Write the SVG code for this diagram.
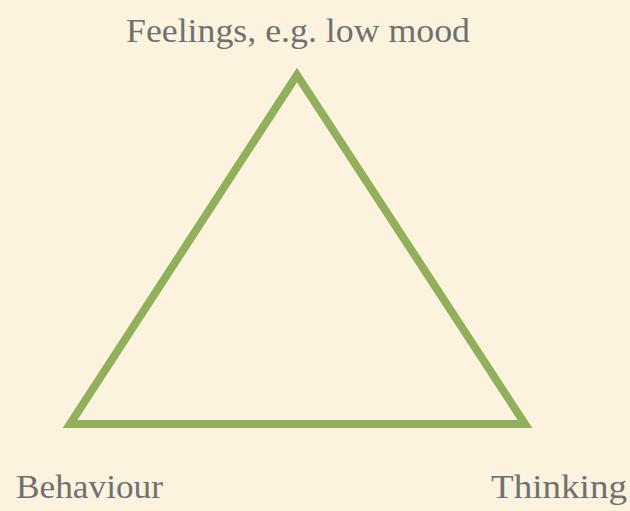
<svg xmlns="http://www.w3.org/2000/svg" width="630" height="511" viewBox="0 0 630 511">
<style>
text{font-family:'Liberation Serif','Times New Roman',Times,serif;font-size:33px;fill:#707070}
</style>
<rect width="630" height="511" fill="#FCF3DF"/>
<g id="connectors">
<polygon points="297,75 70,424 525,424" fill="none" stroke="#92B05B" stroke-width="8" stroke-linejoin="miter"/>
</g>
<g id="node-feelings"><text x="126" y="42" textLength="344" lengthAdjust="spacingAndGlyphs">Feelings, e.g. low mood</text></g>
<g id="node-behaviour"><text x="16" y="498" textLength="147" lengthAdjust="spacingAndGlyphs">Behaviour</text></g>
<g id="node-thinking"><text x="491" y="498" textLength="136" lengthAdjust="spacingAndGlyphs">Thinking</text></g>
</svg>
